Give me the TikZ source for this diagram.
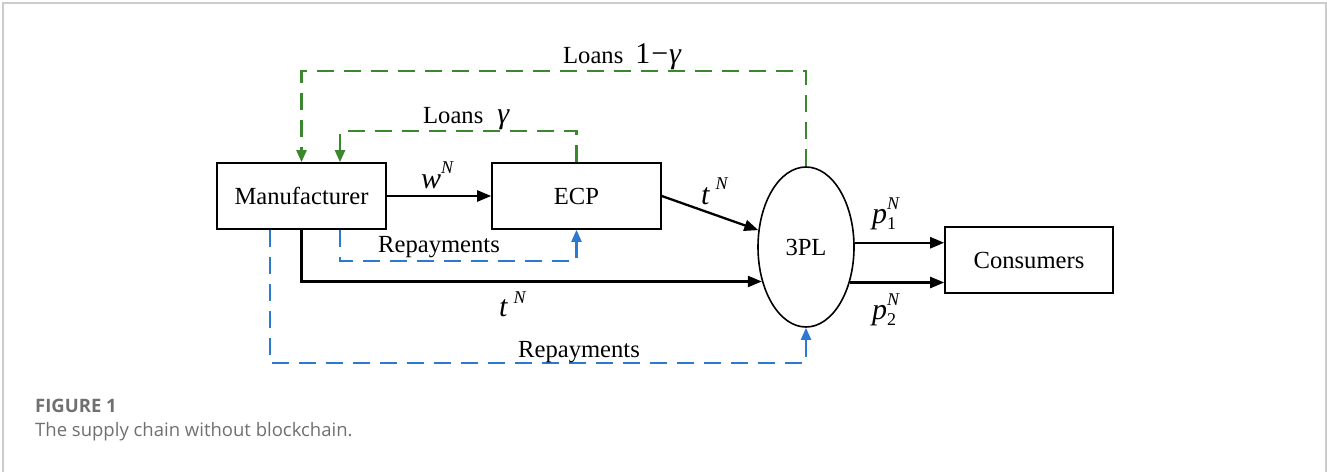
\documentclass[tikz,border=0pt]{standalone}
\usepackage{fontspec}
\setmainfont{Liberation Serif}
\newfontfamily\capfont{Open Sans}
\usetikzlibrary{arrows.meta,shapes.geometric}
\definecolor{lgreen}{RGB}{58,135,45}
\definecolor{lblue}{RGB}{45,120,210}
\definecolor{framegray}{RGB}{204,204,204}
\definecolor{capgray}{RGB}{112,112,114}
\newcommand\mfs{\fontsize{30}{32}\selectfont}
\newcommand\sfs{\fontsize{18}{19}\selectfont}
\newcommand\supsub[2]{\makebox[0pt][l]{\raisebox{14pt}{\sfs\itshape #1}}\raisebox{-6pt}{\sfs #2}}
\begin{document}
\begin{tikzpicture}[x=1pt,y=-1pt,
  txt/.style={font=\fontsize{24.6}{28}\selectfont},
  box/.style={draw, line width=1.6pt, minimum width=169pt, minimum height=66pt, inner sep=0pt, txt},
  flow/.style={line width=2.3pt, -{Triangle[length=14pt,width=11pt]}},
  loan/.style={lgreen, line width=2.2pt, dash pattern=on 17pt off 10pt, -{Triangle[length=12pt,width=10pt]}},
  repay/.style={lblue, line width=2.2pt, dash pattern=on 17pt off 10pt, -{Triangle[length=12pt,width=10pt]}},
  lbl/.style={txt, inner sep=0pt}]
\useasboundingbox (0,0) rectangle (1327,472);
\draw[framegray, line width=1.5pt] (3,472) -- (3,3) -- (1326,3) -- (1326,472);

\node[box] (man) at (301.5,196) {Manufacturer};
\node[box] (ecp) at (576.5,196) {ECP};
\node[draw, ellipse, line width=1.6pt, minimum width=96pt, minimum height=160pt, inner sep=0pt, txt] (tpl) at (806,247) {3PL};
\node[box, minimum width=168pt] (con) at (1029,260) {Consumers};

% flows
\draw[flow] (man.east) -- (ecp.west);
\draw[flow] (ecp.east) -- (tpl);
\draw[flow] (man.south) |- (tpl.218);
\draw[flow] (tpl.5) -- (tpl.5 -| con.west);
\draw[flow] (tpl.321) -- (tpl.321 -| con.west);

% loans
\draw[loan] (tpl.north) -- ++(0,-95) -| (man.north);
\draw[loan] (ecp.north) -- ++(0,-31) -| ([xshift=38.5pt]man.north);

% repayments
\draw[repay] ([xshift=38.5pt]man.south) -- ++(0,31) -| (ecp.south);
\draw[repay] ([xshift=-31.5pt]man.south) -- ++(0,133) -| (tpl.south);

% labels
\node[lbl, anchor=base west] (lo1) at (563,63) {Loans\hspace{12pt}{\mfs 1\hspace{1pt}−\hspace{1pt}\itshape γ}};
\node[lbl, anchor=base west] (lo2) at (423,123) {Loans\hspace{14pt}{\mfs\itshape γ}};
\node[lbl, anchor=base west] (re1) at (378,252) {Repayments};
\node[lbl, anchor=base west] (re2) at (518,357) {Repayments};
\node[lbl, anchor=base west] (wn) at (421,188) {{\mfs\itshape w}\raisebox{15pt}{\sfs\itshape N}};
\node[lbl, anchor=base west] (tn1) at (701,204) {{\mfs\itshape t}\hspace{6pt}\raisebox{15pt}{\sfs\itshape N}};
\node[lbl, anchor=base west] (tn2) at (499,316) {{\mfs\itshape t}\hspace{6pt}\raisebox{13pt}{\sfs\itshape N}};
\node[lbl, anchor=base west] (p1) at (872,223) {{\mfs\itshape p}\supsub{N}{1}};
\node[lbl, anchor=base west] (p2) at (872,319) {{\mfs\itshape p}\supsub{N}{2}};

% caption
\node[anchor=base west, inner sep=0pt, font=\capfont\bfseries\fontsize{18.5}{20}\selectfont, text=capgray] (fig) at (35,412) {FIGURE 1};
\node[anchor=base west, inner sep=0pt, font=\capfont\fontsize{18.5}{20}\selectfont, text=capgray] (cap) at (35,436) {The supply chain without blockchain.};
\end{tikzpicture}
\end{document}
